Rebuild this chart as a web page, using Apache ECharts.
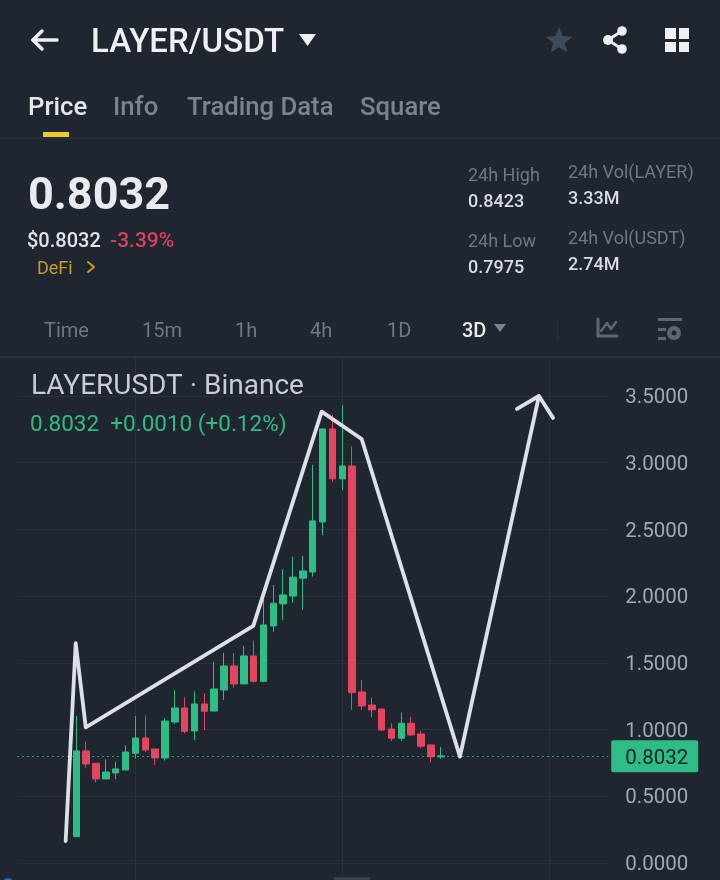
<!DOCTYPE html>
<html>
<head>
<meta charset="utf-8">
<script src="https://cdn.jsdelivr.net/npm/echarts@6/dist/echarts.min.js"></script>
<style>html,body{margin:0;padding:0;background:#1f2630}#c{width:720px;height:880px}</style>
</head>
<body>
<div id="c"></div>
<script>
const opens  = [0.197,0.840,0.747,0.630,0.675,0.697,0.822,0.937,0.855,0.787,1.057,1.162,0.990,1.192,1.139,1.297,1.477,1.342,1.552,1.362,1.777,1.942,2.001,2.134,2.181,2.556,3.253,2.879,2.976,1.282,1.184,1.154,1.004,0.935,1.047,0.967,0.885,0.795];
const closes = [0.840,0.742,0.630,0.682,0.705,0.832,0.937,0.847,0.787,1.064,1.162,0.987,1.192,1.137,1.304,1.477,1.342,1.552,1.362,1.784,1.947,2.009,2.142,2.189,2.564,3.253,2.879,2.976,1.277,1.177,1.147,0.997,0.935,1.047,0.960,0.875,0.797,0.803];
const lows   = [0.197,0.714,0.605,0.630,0.627,0.697,0.785,0.834,0.735,0.767,1.042,0.972,0.922,0.995,1.139,1.222,1.314,1.342,1.352,1.355,1.734,1.822,1.951,1.897,2.146,2.457,2.858,2.796,1.147,1.147,1.092,0.990,0.915,0.915,0.954,0.860,0.755,0.780];
const highs  = [1.102,0.909,0.747,0.777,0.759,0.882,1.102,1.104,0.855,1.085,1.297,1.242,1.284,1.272,1.507,1.576,1.572,1.627,1.666,1.971,2.084,2.202,2.296,2.301,2.984,3.260,3.358,3.433,3.121,1.372,1.242,1.154,1.047,1.127,1.097,0.990,0.885,0.870];
const leadingEmptySlots = 6;
const totalSlots = 61;
const lastPrice = 0.8032;
const drawingX = [4.92,5.94,6.96,23.97,30.91,34.97,44.95,52.97,50.74,52.97,54.40];
const drawingY = [0.165,1.647,1.017,1.777,3.383,3.178,0.797,3.500,3.403,3.500,3.336];

const BG='#1f2630', GREEN='#2ebd85', RED='#e5435e', GRID='#2a313b';
const FONT='Roboto';

const texts = [
  ['LAYER/USDT',91,44,33,500,'#eef0f2'],
  ['Price',28,109,25.7,500,'#e6e8ea'],
  ['Info',113,109,25.7,500,'#7a8391'],
  ['Trading Data',187,109,25.7,500,'#7a8391'],
  ['Square',360,109,25.7,500,'#7a8391'],
  ['0.8032',28,198,45,700,'#e9ebee'],
  ['$0.8032',27,242,20,500,'#dfe2e6'],
  ['-3.39%',110,242,21,500,'#d9415b'],
  ['DeFi',37,269,18,400,'#c79b2e'],
  ['24h High',468,176,18,400,'#6f7885'],
  ['0.8423',468,202,18,500,'#d8dce0'],
  ['24h Low',468,242,18,400,'#6f7885'],
  ['0.7975',468,268,18,500,'#d8dce0'],
  ['24h Vol(LAYER)',568,173,18,400,'#6f7885'],
  ['3.33M',568,199,18,500,'#d8dce0'],
  ['24h Vol(USDT)',568,239,18,400,'#6f7885'],
  ['2.74M',568,265,18,500,'#d8dce0'],
  ['Time',44,332,20,400,'#6f7885'],
  ['15m',142,332,20,400,'#6f7885'],
  ['1h',235,332,20,400,'#6f7885'],
  ['4h',310,332,20,400,'#6f7885'],
  ['1D',387,332,20,400,'#6f7885'],
  ['3D',462,332,20,500,'#e6e8ea'],
  ['LAYERUSDT · Binance',31,387,28,400,'#c9cdd3'],
  ['0.8032  +0.0010 (+0.12%)',30,425,22.5,400,GREEN]
];

const T = t => ({type:'text',z:101,style:{text:t[0],x:t[1],y:t[2],fontSize:t[3],fontWeight:t[4],fill:t[5],fontFamily:FONT,textVerticalAlign:'middle',textBaseline:'middle'}});
const poly = (pts,fill) => ({type:'polygon',z:101,shape:{points:pts},style:{fill}});
const pl = (pts,stroke,w) => ({type:'polyline',z:101,shape:{points:pts},style:{stroke,lineWidth:w,fill:null,lineCap:'round',lineJoin:'round'}});
const rect = (x,y,w,h,fill) => ({type:'rect',z:101,shape:{x,y,width:w,height:h},style:{fill}});
const circ = (cx,cy,r,fill) => ({type:'circle',z:101,shape:{cx,cy,r},style:{fill}});
const starPts=[];for(let i=0;i<10;i++){const r=i%2?6.2:14,a=-Math.PI/2+i*Math.PI/5;starPts.push([559+r*Math.cos(a),41+r*Math.sin(a)]);}

const graphicEls = [
  rect(0,138,720,1,GRID),
  rect(0,356,720,2,GRID),
  rect(43,132,26,5,'#f0c92f'),
  pl([[57,40],[33,40]],'#eef0f2',3.5),
  pl([[42,31],[33,40],[42,49]],'#eef0f2',3.5),
  poly([[299,34],[316,34],[307.5,46]],'#eef0f2'),
  poly(starPts,'#3f4a5c'),
  pl([[622,31],[608,40],[622,49]],'#eef0f2',3),
  circ(622,31,4.8,'#eef0f2'),circ(608,40,5,'#eef0f2'),circ(622,49,4.8,'#eef0f2'),
  rect(665,28,11,11,'#eef0f2'),rect(679,28,10,11,'#eef0f2'),rect(665,42,11,10,'#eef0f2'),rect(679,42,10,10,'#eef0f2'),
  pl([[88,262],[94,267],[88,272]],'#c79b2e',2),
  poly([[494,324],[506,324],[500,332]],'#7a8391'),
  rect(557,318,1,22,GRID),
  pl([[598,319],[598,336],[617,336]],'#5d6674',3),
  pl([[601,331],[607,323],[611,329],[616,322]],'#5d6674',2.5),
  rect(658,318,24,3,'#5d6674'),rect(658,328,8,3,'#5d6674'),rect(658,337,8,3,'#5d6674'),
  circ(674,333,7,'#5d6674'),circ(674,333,2.5,BG),
  rect(334,877,36,3,'#3a414c'),
  circ(8,884,6,'#2a62d8')
].concat(texts.map(T));

const slots = Array.from({length:totalSlots},(_,i)=>String(i));
const candleData = opens.map((o,i)=>[i+leadingEmptySlots,o,closes[i],lows[i],highs[i]]);

const chart = echarts.init(document.getElementById('c'),null,{renderer:'canvas'});
chart.setOption({
  animation:false,
  backgroundColor:BG,
  grid:[
    {left:17.2,right:111.8,top:396,bottom:17},
    {left:17.2,right:111.8,top:358,bottom:0}
  ],
  xAxis:[
    {gridIndex:0,type:'category',data:slots,boundaryGap:false,axisLine:{show:false},axisTick:{show:false},axisLabel:{show:false},splitLine:{show:false}},
    {gridIndex:0,type:'value',min:0,max:60,show:false,splitLine:{show:false}},
    {gridIndex:1,type:'category',data:slots,boundaryGap:false,axisLine:{show:false},axisTick:{show:false},axisLabel:{show:false},
     splitLine:{show:true,interval:i=>i>=12&&(i-12)%21===0,lineStyle:{color:GRID,width:1}}}
  ],
  yAxis:[
    {gridIndex:0,type:'value',position:'right',min:0,max:3.5,interval:0.5,
     axisLine:{show:false},axisTick:{show:false},
     axisLabel:{margin:17,color:'#a4a9b0',fontSize:20.5,fontFamily:FONT,verticalAlign:'top',lineHeight:4,formatter:v=>v.toFixed(4)},
     splitLine:{show:true,lineStyle:{color:GRID,width:1}}},
    {gridIndex:1,type:'value',min:0,max:1,show:false,splitLine:{show:false}}
  ],
  graphic:{elements:graphicEls},
  series:[
    {type:'line',xAxisIndex:2,yAxisIndex:1,data:[],silent:true},
    {type:'candlestick',xAxisIndex:0,yAxisIndex:0,barWidth:7,clip:false,data:candleData,
     encode:{x:0,y:[1,2,3,4]},
     itemStyle:{color:GREEN,color0:RED,borderColor:GREEN,borderColor0:RED,borderWidth:1},
     markLine:{symbol:'none',silent:true,
       lineStyle:{type:[1.5,3.5],color:GREEN,width:1},
       label:{position:'end',distance:3,formatter:()=>'{v|'+lastPrice.toFixed(4)+'}',
              backgroundColor:GREEN,padding:[4,10,4,14],borderRadius:2,
              rich:{v:{fontFamily:FONT,fontSize:20.5,color:'#1a2029',height:24,lineHeight:24,padding:[6,0,0,0]}}},
       data:[{yAxis:lastPrice}]}},
    {type:'line',xAxisIndex:1,yAxisIndex:0,symbol:'none',z:6,clip:false,
     data:drawingX.map((x,i)=>[x,drawingY[i]]),
     lineStyle:{color:'#dde1e7',width:3.8,join:'round',cap:'round'}}
  ]
});
</script>
</body>
</html>
